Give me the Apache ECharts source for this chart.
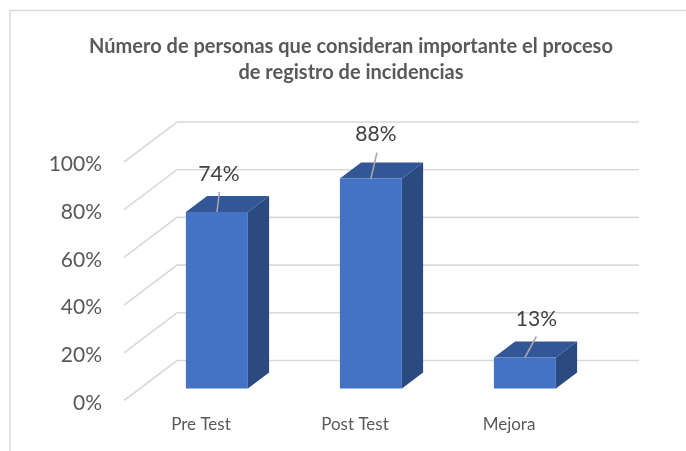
<!DOCTYPE html>
<html>
<head>
<meta charset="utf-8">
<style>
  html, body { margin: 0; padding: 0; background: #fff; }
  #chart { width: 686px; height: 451px; }
</style>
<script src="https://cdn.jsdelivr.net/npm/echarts@6/dist/echarts.min.js"></script>
</head>
<body>
<div id="chart"></div>
<script>
const TITLE = 'Número de personas que consideran importante el proceso\nde registro de incidencias';
const categories = ['Pre Test', 'Post Test', 'Mejora'];
const values = [74, 88, 13];
const ticks = [0, 20, 40, 60, 80, 100];

// Fake 3D: full depth of the chart box in px, bars sit partway into it
const DEPTH = [53, -40];
const BAR_START = 0.3;
const BAR_END = 0.7;
const BAR_WIDTH = 62;

// Label placement per bar, relative to the top-centre of the front face
const LEADER_ENDS = [[2.5, -20], [6, -26], [11.5, -21]];
const LABEL_SHIFTS = [[2, -38], [5, -44], [11.5, -38]];

const shift = (p, d) => [p[0] + DEPTH[0] * d, p[1] + DEPTH[1] * d];

function renderWalls(params, api) {
  const box = params.coordSys;
  const y = api.coord([0, api.value(1)])[1];
  const a = [box.x, y];
  const b = shift(a, 1);
  const c = [box.x + box.width + DEPTH[0], b[1]];
  return {
    type: 'polyline',
    shape: { points: [a, b, c] },
    style: { fill: null, stroke: '#d9d9d9', lineWidth: 1.6 },
  };
}

function renderBar(params, api) {
  const i = api.value(0);
  const top = api.coord([i, api.value(1)]);
  const base = api.coord([i, 0]);
  const half = BAR_WIDTH / 2;
  const fl = shift([top[0] - half, top[1]], BAR_START);
  const fr = shift([top[0] + half, top[1]], BAR_START);
  const bl = shift([top[0] - half, base[1]], BAR_START);
  const br = shift([top[0] + half, base[1]], BAR_START);
  const backShift = (p) => shift(p, BAR_END - BAR_START);
  const tc = [(fl[0] + fr[0]) / 2, fl[1]];
  const leader = LEADER_ENDS[i];
  const lab = LABEL_SHIFTS[i];
  return {
    type: 'group',
    children: [
      { type: 'polygon', shape: { points: [fr, backShift(fr), backShift(br), br] }, style: { fill: '#2a4a80' } },
      { type: 'polygon', shape: { points: [fl, backShift(fl), backShift(fr), fr] }, style: { fill: '#325696' } },
      { type: 'polygon', shape: { points: [fl, fr, br, bl] }, style: { fill: '#4472c4' } },
      {
        type: 'line',
        shape: { x1: tc[0], y1: tc[1], x2: tc[0] + leader[0], y2: tc[1] + leader[1] },
        style: { stroke: '#a6a6a6', lineWidth: 1.6 },
      },
      {
        type: 'text',
        style: {
          x: tc[0] + lab[0],
          y: tc[1] + lab[1],
          text: api.value(1) + '%',
          fill: '#404040',
          font: '21px Lato',
          align: 'center',
          verticalAlign: 'middle',
        },
      },
    ],
  };
}

const chart = echarts.init(document.getElementById('chart'), null, { renderer: 'canvas' });

chart.setOption({
  animation: false,
  backgroundColor: '#ffffff',
  textStyle: { fontFamily: 'Lato' },
  title: {
    text: TITLE,
    left: 346,
    top: 29,
    textAlign: 'center',
    textStyle: { fontFamily: 'Lato', fontSize: 20, fontWeight: 'bold', color: '#595959', lineHeight: 26 },
  },
  grid: { left: 124, top: 162, width: 462, height: 238.5 },
  xAxis: {
    type: 'category',
    data: categories,
    axisLine: { show: false },
    axisTick: { show: false },
    axisLabel: { color: '#595959', fontSize: 17, margin: 16 },
  },
  yAxis: {
    type: 'value',
    min: 0,
    max: 100,
    interval: 20,
    axisLine: { show: false },
    axisTick: { show: false },
    splitLine: { show: false },
    axisLabel: {
      margin: 22,
      formatter: '{v|{value}%}',
      rich: { v: { color: '#595959', fontSize: 21, fontFamily: 'Lato', padding: [5, 0, 0, 0] } },
    },
  },
  graphic: [
    {
      type: 'polyline',
      silent: true,
      shape: { points: [[10, 451], [10, 10.5], [686, 10.5]] },
      style: { fill: null, stroke: '#d9d9d9', lineWidth: 1.5 },
    },
  ],
  series: [
    {
      type: 'custom',
      renderItem: renderWalls,
      silent: true,
      clip: false,
      z: 1,
      data: ticks.map((t) => [0, t]),
    },
    {
      type: 'custom',
      renderItem: renderBar,
      silent: true,
      clip: false,
      z: 2,
      data: values.map((v, i) => [i, v]),
    },
  ],
});
</script>
</body>
</html>
